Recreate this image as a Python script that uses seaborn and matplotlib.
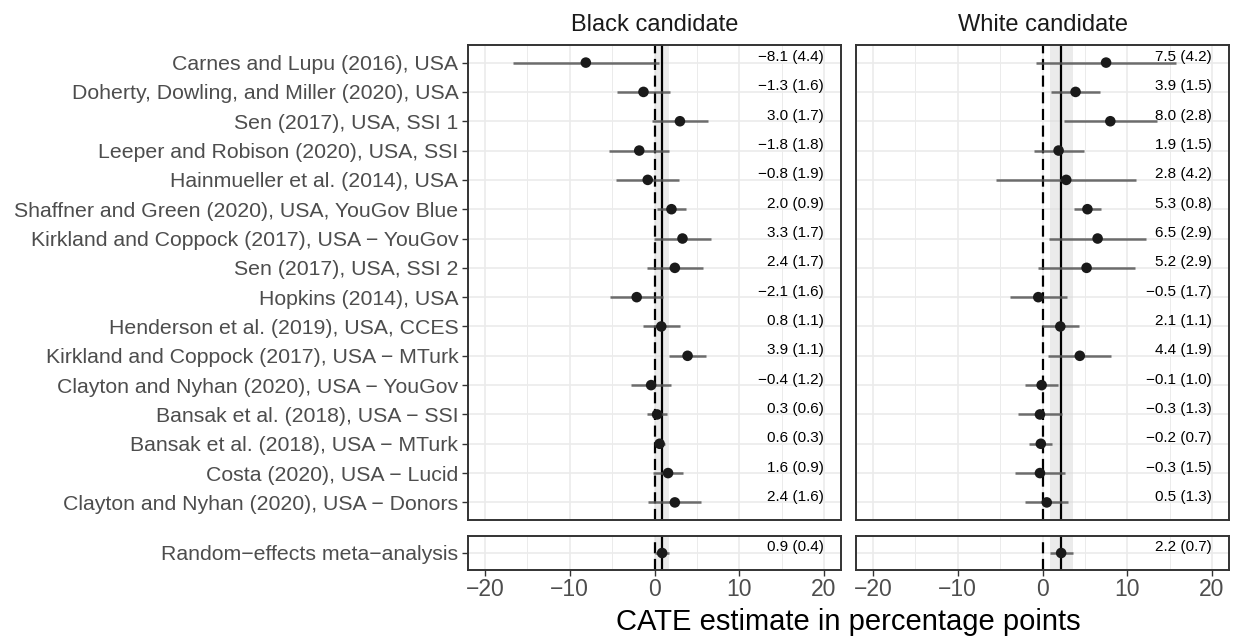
import numpy as np
import pandas as pd
import seaborn as sns
import matplotlib.pyplot as plt

studies = [
    "Carnes and Lupu (2016), USA",
    "Doherty, Dowling, and Miller (2020), USA",
    "Sen (2017), USA, SSI 1",
    "Leeper and Robison (2020), USA, SSI",
    "Hainmueller et al. (2014), USA",
    "Shaffner and Green (2020), USA, YouGov Blue",
    "Kirkland and Coppock (2017), USA \u2212 YouGov",
    "Sen (2017), USA, SSI 2",
    "Hopkins (2014), USA",
    "Henderson et al. (2019), USA, CCES",
    "Kirkland and Coppock (2017), USA \u2212 MTurk",
    "Clayton and Nyhan (2020), USA \u2212 YouGov",
    "Bansak et al. (2018), USA \u2212 SSI",
    "Bansak et al. (2018), USA \u2212 MTurk",
    "Costa (2020), USA \u2212 Lucid",
    "Clayton and Nyhan (2020), USA \u2212 Donors",
]
black_est = [-8.1, -1.3, 3.0, -1.8, -0.8, 2.0, 3.3, 2.4, -2.1, 0.8, 3.9, -0.4, 0.3, 0.6, 1.6, 2.4]
black_se = [4.4, 1.6, 1.7, 1.8, 1.9, 0.9, 1.7, 1.7, 1.6, 1.1, 1.1, 1.2, 0.6, 0.3, 0.9, 1.6]
white_est = [7.5, 3.9, 8.0, 1.9, 2.8, 5.3, 6.5, 5.2, -0.5, 2.1, 4.4, -0.1, -0.3, -0.2, -0.3, 0.5]
white_se = [4.2, 1.5, 2.8, 1.5, 4.2, 0.8, 2.9, 2.9, 1.7, 1.1, 1.9, 1.0, 1.3, 0.7, 1.5, 1.3]

meta_label = "Random\u2212effects meta\u2212analysis"
meta_est = {"Black candidate": 0.9, "White candidate": 2.2}
meta_se = {"Black candidate": 0.4, "White candidate": 0.7}

panels = ["Black candidate", "White candidate"]

rows = []
for cand, est, se in [("Black candidate", black_est, black_se), ("White candidate", white_est, white_se)]:
    for i, s in enumerate(studies):
        rows.append({"candidate": cand, "study": s, "row": i, "est": est[i], "se": se[i]})
df = pd.DataFrame(rows)
df["lo"] = df["est"] - 1.96 * df["se"]
df["hi"] = df["est"] + 1.96 * df["se"]

meta = pd.DataFrame({"candidate": panels,
                     "est": [meta_est[p] for p in panels],
                     "se": [meta_se[p] for p in panels]})
meta["row"] = 0
meta["lo"] = meta["est"] - 1.96 * meta["se"]
meta["hi"] = meta["est"] + 1.96 * meta["se"]


def fmt(e, s):
    return f"{e:.1f} ({s:.1f})".replace("-", "\u2212")


sns.set_style("white")
plt.rcParams["font.family"] = ["Liberation Sans", "DejaVu Sans"]
plt.rcParams["axes.unicode_minus"] = True

fig = plt.figure(figsize=(12.33, 6.41), dpi=100)
W, H = 1233, 641
lefts = [468, 856]
pw = 373
top_box = (45, 520)
bot_box = (536, 570)

xlim = (-22, 22)
for j, cand in enumerate(panels):
    d = df[df["candidate"] == cand]
    m = meta[meta["candidate"] == cand].iloc[0]
    for k, (data, box, nrows) in enumerate([(d, top_box, len(studies)), (meta[meta["candidate"] == cand], bot_box, 1)]):
        ax = fig.add_axes([lefts[j] / W, 1 - box[1] / H, pw / W, (box[1] - box[0]) / H])
        ax.set_xlim(*xlim)
        ax.set_ylim(nrows - 1 + 0.6, -0.6)
        # grid
        for gx in [-15, -5, 5, 15]:
            ax.axvline(gx, color="#EBEBEB", lw=0.7, zorder=0)
        for gx in [-20, -10, 0, 10, 20]:
            ax.axvline(gx, color="#EBEBEB", lw=1.2, zorder=0)
        for gy in range(nrows):
            ax.axhline(gy, color="#EBEBEB", lw=1.2, zorder=0)
        ax.axvspan(m["lo"], m["hi"], color="#D9D9D9", alpha=0.5, lw=0, zorder=1)
        ax.axvline(0, color="black", lw=1.6, ls=(0, (5, 2.5)), zorder=2)
        ax.axvline(m["est"], color="black", lw=1.6, zorder=2)
        for _, r in data.iterrows():
            ax.text(20, r["row"] + 0.05, fmt(r["est"], r["se"]), ha="right", va="bottom",
                    fontsize=11, color="black", zorder=2)
        ax.hlines(data["row"], data["lo"], data["hi"], color="#555555", alpha=0.85, lw=1.8, zorder=3)
        sns.scatterplot(data=data, x="est", y="row", ax=ax, color="#1a1a1a", s=58,
                        edgecolor="none", zorder=4, legend=False)
        ax.set_xlabel("")
        ax.set_ylabel("")
        for sp in ax.spines.values():
            sp.set_color("#333333")
            sp.set_linewidth(1.4)
        if j == 0:
            ax.set_yticks(range(nrows))
            ax.set_yticklabels(studies if k == 0 else [meta_label], fontsize=15.3, color="#4D4D4D")
            ax.tick_params(axis="y", length=4, width=1.0, color="#333333", left=True, pad=3)
        else:
            ax.set_yticks([])
        if k == 1:
            ax.set_xticks([-20, -10, 0, 10, 20])
            ax.tick_params(axis="x", length=4, width=1.0, color="#333333", bottom=True,
                           labelsize=16.5, labelcolor="#4D4D4D", pad=2)
        else:
            ax.set_xticks([])
            ax.set_title(cand, fontsize=17, color="#1A1A1A", pad=10)

fig.text((lefts[0] + lefts[1] + pw) / 2 / W, 1 - 622 / H, "CATE estimate in percentage points",
         ha="center", va="center", fontsize=21, color="black")

fig.savefig("out.png", dpi=100)
